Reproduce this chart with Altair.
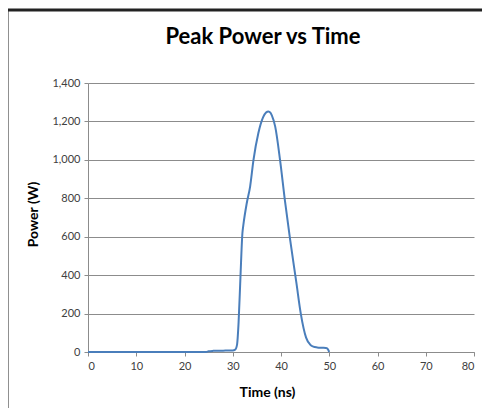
import altair as alt
import pandas as pd

# Data
time_ns = [0, 24.5, 25, 26, 27, 28, 29, 30, 30.5, 30.9, 31.2, 31.6, 32.0, 32.2, 32.9,
           33.6, 34.3, 35.3, 36.3, 36.9, 37.4, 37.8, 38.1, 38.8, 39.8, 40.8, 41.9,
           43.2, 44.1, 45.2, 46.0, 46.7, 47.5, 48.5, 49.3, 49.6, 50.0]
power_w = [0, 0, 4, 6, 7, 7, 8, 8, 12, 40, 149, 392, 618, 661, 774,
           861, 1000, 1138, 1222, 1246, 1252, 1246, 1232, 1173, 1000, 791, 583,
           358, 200, 75, 40, 28, 24, 22, 21, 18, 0]

x_ticks = [0, 10, 20, 30, 40, 50, 60, 70, 80]
y_ticks = [0, 200, 400, 600, 800, 1000, 1200, 1400]

title_text = "Peak Power vs Time"
x_title = "Time (ns)"
y_title = "Power (W)"

df = pd.DataFrame({"t": time_ns, "p": power_w})

FONT = "Lato"
W, H = 386, 269

line = alt.Chart(df).mark_line(color="#4a7ebb", strokeWidth=2, interpolate="monotone").encode(
    x=alt.X("t:Q", scale=alt.Scale(domain=[0, 80], nice=False),
            axis=alt.Axis(values=x_ticks, format="d", grid=False, title=x_title,
                          titleX=179, titleY=40, titleBaseline="middle",
                          titleAlign="center", labelPadding=4)),
    y=alt.Y("p:Q", scale=alt.Scale(domain=[0, 1400], nice=False),
            axis=alt.Axis(values=y_ticks, format=",d", grid=True, title=y_title,
                          titleX=-55, titleY=131, titleBaseline="middle",
                          titleAlign="center", labelPadding=4)),
)

one = pd.DataFrame({"a": [0]})

title = alt.Chart(one).mark_text(
    text=title_text, font=FONT, fontSize=22, fontWeight="bold", color="#000",
    align="center", baseline="alphabetic"
).encode(x=alt.value(175), y=alt.value(-39))

vborder = alt.Chart(one).mark_rule(color="#222", strokeWidth=3).encode(
    x=alt.value(-81), y=alt.value(-74), y2=alt.value(330))
hborder = alt.Chart(one).mark_rule(color="#222", strokeWidth=3).encode(
    y=alt.value(-73), x=alt.value(-82), x2=alt.value(395))

chart = alt.layer(line, title, vborder, hborder).properties(
    width=W, height=H,
    autosize=alt.AutoSizeParams(type="none"),
    padding={"left": 80, "top": 75, "right": 8, "bottom": 56},
    background="white",
).configure_view(stroke=None).configure_axis(
    labelFont=FONT, labelFontSize=11, labelColor="#404040",
    titleFont=FONT, titleFontSize=14, titleFontWeight="bold", titleColor="#000",
    domainColor="#8c8c8c", tickColor="#8c8c8c", tickSize=4,
    gridColor="#8c8c8c", gridWidth=1, domainWidth=1,
)

chart.save("out.html", embed_options={"renderer": "svg", "actions": False})
